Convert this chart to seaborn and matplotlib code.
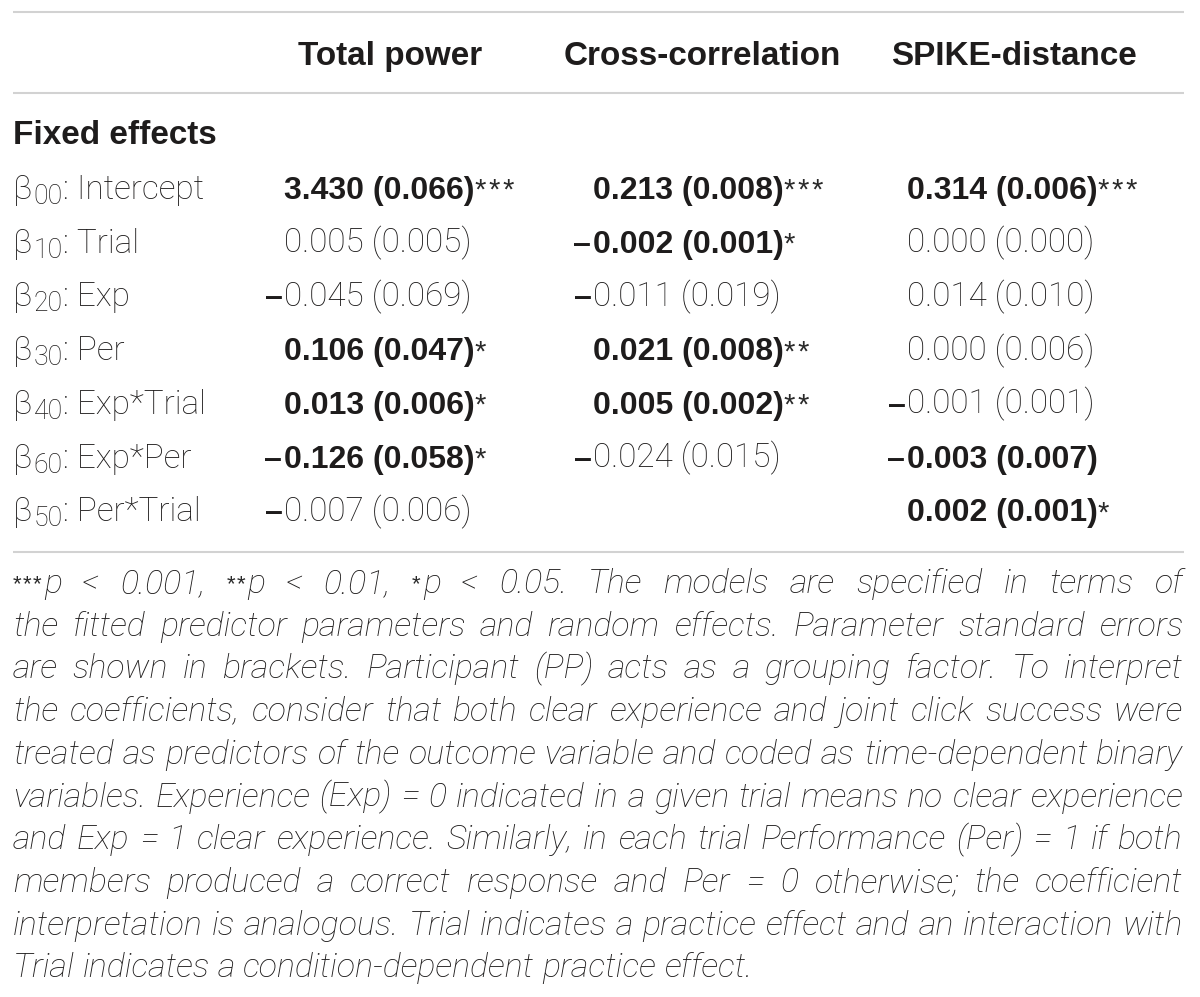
import seaborn as sns
import matplotlib.pyplot as plt

# ---------------- table data ----------------
columns = ['Total power', 'Cross-correlation', 'SPIKE-distance']
beta_subs = ['00', '10', '20', '30', '40', '60', '50']
row_names = ['Intercept', 'Trial', 'Exp', 'Per', 'Exp*Trial', 'Exp*Per', 'Per*Trial']

total_est = [3.430, 0.005, -0.045, 0.106, 0.013, -0.126, -0.007]
total_se = [0.066, 0.005, 0.069, 0.047, 0.006, 0.058, 0.006]
total_stars = ['***', '', '', '*', '*', '*', '']
total_bold = [True, False, False, True, True, True, False]

cross_est = [0.213, -0.002, -0.011, 0.021, 0.005, -0.024, None]
cross_se = [0.008, 0.001, 0.019, 0.008, 0.002, 0.015, None]
cross_stars = ['***', '*', '', '**', '**', '', '']
cross_bold = [True, True, False, True, True, False, False]

spike_est = [0.314, 0.000, 0.014, 0.000, -0.001, -0.003, 0.002]
spike_se = [0.006, 0.000, 0.010, 0.006, 0.001, 0.007, 0.001]
spike_stars = ['***', '', '', '', '', '', '*']
spike_bold = [True, False, False, False, False, True, True]

note_lines = [
    '***p < 0.001, **p < 0.01, *p < 0.05. The models are specified in terms of',
    'the fitted predictor parameters and random effects. Parameter standard errors',
    'are shown in brackets. Participant (PP) acts as a grouping factor. To interpret',
    'the coefficients, consider that both clear experience and joint click success were',
    'treated as predictors of the outcome variable and coded as time-dependent binary',
    'variables. Experience (Exp) = 0 indicated in a given trial means no clear experience',
    'and Exp = 1 clear experience. Similarly, in each trial Performance (Per) = 1 if both',
    'members produced a correct response and Per = 0 otherwise; the coefficient',
    'interpretation is analogous. Trial indicates a practice effect and an interaction with',
    'Trial indicates a condition-dependent practice effect.',
]

# ---------------- layout ----------------
sns.set_theme(style='white')
INK = '#1e1c1c'
RULE = '#d2d2d2'
LIGHT = 'Roboto'
BOLD = 'Liberation Sans'
STAR = 'Liberation Sans'

fig = plt.figure(figsize=(12, 9.97), dpi=100)
ax = fig.add_axes([0, 0, 1, 1])
ax.set_xlim(0, 1200)
ax.set_ylim(997, 0)
ax.axis('off')
sns.despine(ax=ax, left=True, bottom=True)
r = fig.canvas.get_renderer()


def fam(weight, family):
    if family is not None:
        return family
    return BOLD if weight == 'bold' else LIGHT


def put(x, y, s, size, weight='light', style='normal', family=None, ha='left'):
    t = ax.text(x, y, s, fontsize=size, fontweight=weight, fontstyle=style,
                family=fam(weight, family), ha=ha, va='baseline', color=INK)
    return x + t.get_window_extent(r).width


def measure(s, size, weight='light', style='normal', family=None):
    t = ax.text(0, 0, s, fontsize=size, fontweight=weight, fontstyle=style,
                family=fam(weight, family))
    w = t.get_window_extent(r).width
    t.remove()
    return w


# font sizes fitted to the widths of the reference typesetting
FS = 20 * 188 / measure('0.005 (0.005)', 20)
BS = 20 * 184 / measure('Total power', 20, weight='bold')
NBS = 20 * 191 / measure('3.430 (0.066)', 20, weight='bold')
NS = 20 * 740 / measure(note_lines[-1], 20, style='italic')

for yy in [12, 93, 552]:
    ax.plot([13, 1184], [yy, yy], color=RULE, lw=1.5, solid_capstyle='butt')

# header
head_x = [390, 702, 1014]
for hx, name in zip(head_x, columns):
    put(hx, 65, name, BS, weight='bold', ha='center')
put(13, 144, 'Fixed effects', BS, weight='bold')

row_y = [199 + 53.7 * i for i in range(len(row_names))]
for y, sub, name in zip(row_y, beta_subs, row_names):
    x = put(13, y, '\u03b2', FS)
    x = put(x + 1, y + 5, sub, FS * 0.8)
    put(x, y, ': ' + name, FS)


def stars_at(x, y, n, size, step):
    for k in range(n):
        ax.text(x + k * step, y, '*', fontsize=size, family=STAR, ha='left',
                va='baseline', color='#2a2a2a')


col_x = [284, 593, 907]
col_data = [(total_est, total_se, total_stars, total_bold),
            (cross_est, cross_se, cross_stars, cross_bold),
            (spike_est, spike_se, spike_stars, spike_bold)]
dash_w = measure('\u2013', NBS, weight='bold')
for cx, (est, se, stars, bold) in zip(col_x, col_data):
    for y, v, s, st, b in zip(row_y, est, se, stars, bold):
        if v is None:
            continue
        if v < 0:
            put(cx - dash_w - (2 if b else 1), y, '\u2013', NBS, weight='bold')
        txt = f'{abs(v):.3f} ({s:.3f})'
        if b:
            x = put(cx, y, txt, NBS, weight='bold')
        else:
            x = put(cx, y, txt, FS)
        if st:
            stars_at(x, y, len(st), 21, 14.0)

# justified italic footnote
LEFT, RIGHT = 13, 1183
NSTEP = 10.0


def split_tok(tok):
    n = len(tok) - len(tok.lstrip('*'))
    return n, tok[n:]


def token_width(tok):
    n, rest = split_tok(tok)
    w = n * NSTEP
    if rest:
        w += measure(rest, NS, style='italic')
    return w


def draw_token(x, y, tok):
    n, rest = split_tok(tok)
    if n:
        stars_at(x, y - 3, n, 16, NSTEP)
        x += n * NSTEP + 1
    if rest:
        put(x, y, rest, NS, style='italic')


space_w = measure('a a', NS, style='italic') - measure('aa', NS, style='italic')
y0, dy = 593, 42.7
for i, line in enumerate(note_lines):
    y = y0 + i * dy
    toks = line.split(' ')
    widths = [token_width(t) for t in toks]
    if i < len(note_lines) - 1:
        gap = (RIGHT - LEFT - sum(widths)) / (len(toks) - 1)
    else:
        gap = space_w
    x = LEFT
    for t, w in zip(toks, widths):
        draw_token(x, y, t)
        x += w + gap

fig.savefig('out.png', dpi=100, facecolor='white')
